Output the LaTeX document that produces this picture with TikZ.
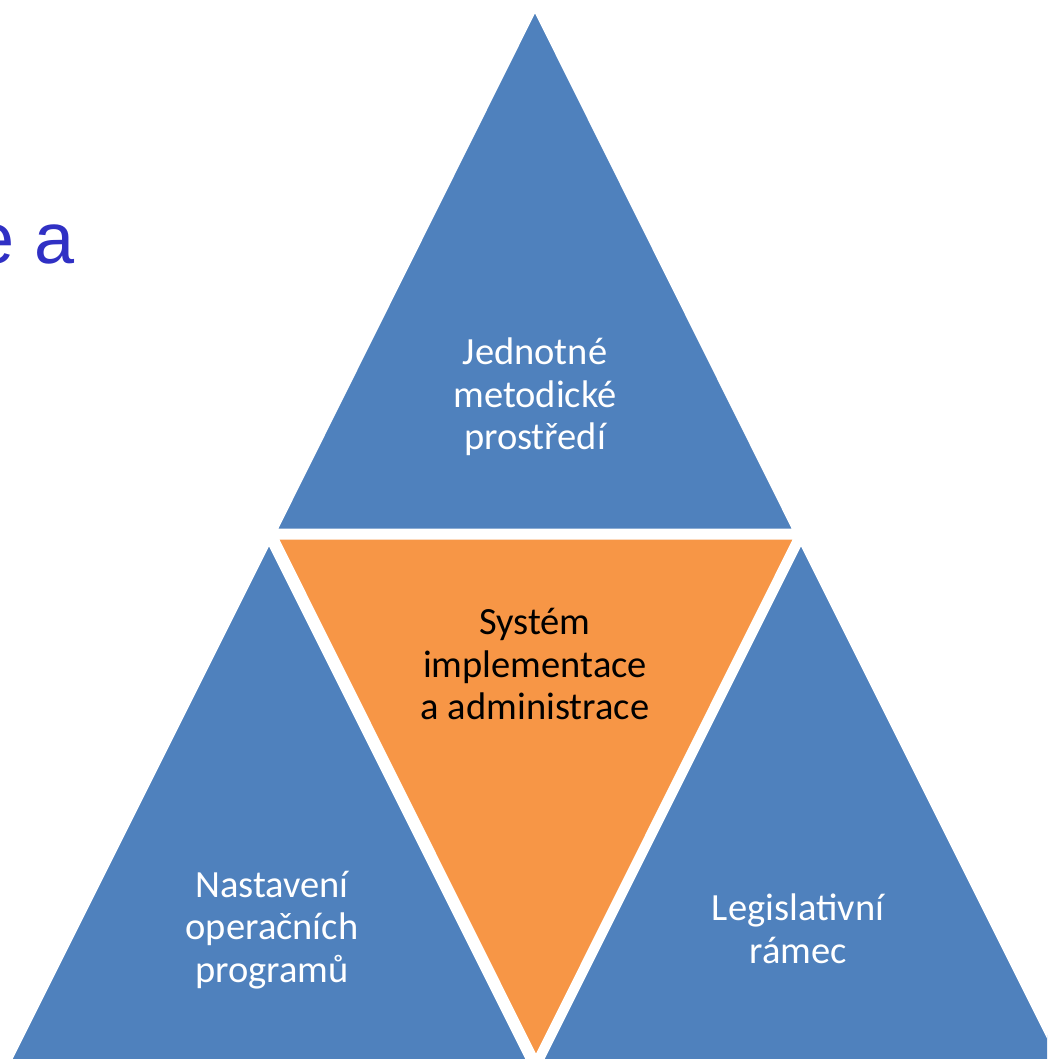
\documentclass[tikz,border=0pt]{standalone}
\usepackage{fontspec}
\setmainfont{Carlito}
\newfontfamily\arialf{Liberation Sans}
\definecolor{triblue}{HTML}{4F81BD}
\definecolor{triorange}{HTML}{F79646}
\definecolor{titleblue}{HTML}{3030C4}
\begin{document}
\begin{tikzpicture}[x=1pt,y=-1pt,
  tri/.style={draw=white,line width=3pt,line join=miter},
  lbl/.style={align=center,font=\fontsize{38.5}{42.5}\selectfont,inner sep=0pt}]
\useasboundingbox (0,0) rectangle (1047,1059);
\begin{scope}
\clip (0,0) rectangle (1047,1059);
% top triangle
\coordinate (ta) at (535,10);
\coordinate (tl) at (276,530);
\coordinate (tr) at (794,530);
\filldraw[tri,fill=triblue] (ta) -- (tr) -- (tl) -- cycle;
% left triangle
\coordinate (la) at (269,543);
\coordinate (ll) at (10,1061);
\coordinate (lr) at (528,1061);
\filldraw[tri,fill=triblue] (la) -- (lr) -- (ll) -- cycle;
% right triangle
\coordinate (ra) at (801,543);
\coordinate (rl) at (542,1061);
\coordinate (rr) at (1060,1061);
\filldraw[tri,fill=triblue] (ra) -- (rr) -- (rl) -- cycle;
% orange triangle
\coordinate (ol) at (277,538);
\coordinate (or) at (795,538);
\coordinate (ob) at (536,1057);
\filldraw[tri,fill=triorange] (ol) -- (or) -- (ob) -- cycle;
\end{scope}
\node[lbl,text=white] (ttop) at (535,397) {Jednotné\\metodické\\prostředí};
\node[lbl,text=black] (tmid) at (535,664) {Systém\\implementace\\a administrace};
\node[lbl,text=white] (tleft) at (272,930) {Nastavení\\operačních\\programů};
\node[lbl,text=white] (tright) at (798,929) {Legislativní\\rámec};
\node[anchor=base east,inner sep=0pt,text=titleblue,font=\arialf\fontsize{72}{80}\selectfont] (title) at (75,263) {e a};
\end{tikzpicture}
\end{document}
